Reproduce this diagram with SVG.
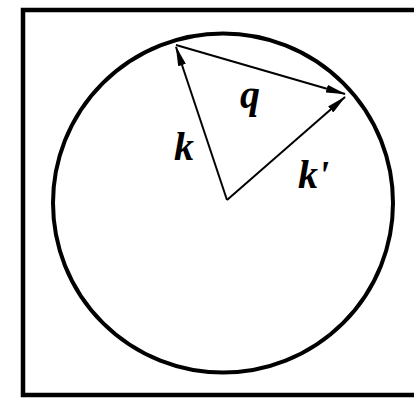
<svg xmlns="http://www.w3.org/2000/svg" width="414" height="401" viewBox="0 0 414 401">
<style>
.frame{fill:none;stroke:#000;stroke-width:4.5}
.circ{fill:none;stroke:#000;stroke-width:4}
.vec{stroke:#000;stroke-width:2;fill:none;marker-end:url(#ah)}
.lbl{font-family:"Liberation Serif",serif;font-weight:bold;font-style:italic;font-size:40px;fill:#000}
</style>
<defs>
<marker id="ah" viewBox="0 0 20 8" refX="19" refY="4" markerWidth="10" markerHeight="4" markerUnits="strokeWidth" orient="auto">
<path d="M0,0 L20,4 L0,8 Z" fill="#000"/>
</marker>
</defs>
<rect x="23" y="10" width="420" height="385" class="frame"/>
<g id="sphere"><ellipse cx="223" cy="203" rx="170" ry="169.5" class="circ"/></g>
<g id="connectors">
<line x1="227" y1="200" x2="176" y2="47" class="vec"/>
<line x1="176" y1="45" x2="345" y2="94" class="vec"/>
<line x1="227" y1="200" x2="345" y2="97" class="vec"/>
</g>
<g id="labels">
<text x="240" y="108" class="lbl">q</text>
<text x="174" y="160" class="lbl">k</text>
<text x="298" y="188" class="lbl">k'</text>
</g>
</svg>
